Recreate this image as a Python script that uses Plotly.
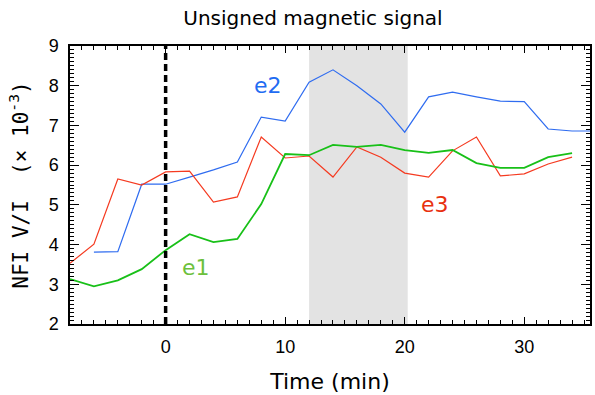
import plotly.graph_objects as go

# Time in minutes relative to the reference moment
time_e1 = [-8, -6, -4, -2, 0, 2, 4, 6, 8, 10, 12, 14, 16, 18, 20, 22, 24, 26, 28, 30, 32, 34]
e1 = [3.13, 2.95, 3.10, 3.38, 3.86, 4.26, 4.06, 4.14, 5.02, 6.28, 6.25, 6.51, 6.46, 6.51,
      6.38, 6.31, 6.38, 6.05, 5.93, 5.93, 6.20, 6.30]

time_e2 = [-6, -4, -2, 0, 2, 4, 6, 8, 10, 12, 14, 16, 18, 20, 22, 24, 26, 28, 30, 32, 34, 36]
e2 = [3.81, 3.82, 5.52, 5.52, 5.70, 5.88, 6.08, 7.21, 7.11, 8.09, 8.40, 8.00, 7.54, 6.83,
      7.72, 7.84, 7.72, 7.61, 7.60, 6.91, 6.86, 6.86]

time_e3 = [-8, -6, -4, -2, 0, 2, 4, 6, 8, 10, 12, 14, 16, 18, 20, 22, 24, 26, 28, 30, 32, 34]
e3 = [3.53, 4.01, 5.65, 5.50, 5.83, 5.85, 5.07, 5.20, 6.71, 6.18, 6.23, 5.70, 6.46, 6.20,
      5.80, 5.70, 6.36, 6.71, 5.73, 5.78, 6.03, 6.20]

shade_start, shade_end = 12, 20.25
font = "DejaVu Sans"
tick_font = "Liberation Sans"
mono_font = "DejaVu Sans Mono"

fig = go.Figure()
fig.add_vrect(x0=shade_start, x1=shade_end, fillcolor="#e3e3e3", line_width=0, layer="below")

fig.add_trace(go.Scatter(x=time_e2, y=e2, mode="lines", line=dict(color="#2f6cf0", width=1.2)))
fig.add_trace(go.Scatter(x=time_e3, y=e3, mode="lines", line=dict(color="#f53a20", width=1.2)))
fig.add_trace(go.Scatter(x=time_e1, y=e1, mode="lines", line=dict(color="#18c018", width=1.8)))

fig.add_shape(type="line", x0=0, x1=0, y0=2, y1=9, xref="x", yref="y",
              line=dict(color="black", width=3.5, dash="7px,4px"))

for txt, x, y, col in [("e2", 8.6, 8.0, "#1f6cf2"), ("e1", 2.5, 3.43, "#6cc03c"),
                       ("e3", 22.5, 5.0, "#e8300f")]:
    fig.add_annotation(x=x, y=y, text=txt, showarrow=False,
                       font=dict(family=font, size=22, color=col))

axis_common = dict(showline=True, linecolor="black", linewidth=1.5, mirror="ticks",
                   ticks="inside", tickcolor="black", showgrid=False, zeroline=False,
                   tickfont=dict(family=tick_font, size=18, color="black"))

fig.update_xaxes(range=[-8, 35.5], tickvals=[0, 10, 20, 30], ticklen=7, tickwidth=1.2,
                 ticklabelstandoff=6,
                 minor=dict(dtick=1, tick0=0, ticks="inside", ticklen=4, tickcolor="black", tickwidth=1),
                 title=dict(text="Time (min)", font=dict(family=font, size=22, color="black"), standoff=17),
                 **axis_common)
fig.update_yaxes(range=[2, 9], tickvals=[2, 3, 4, 5, 6, 7, 8, 9], ticklen=9, tickwidth=1.2,
                 ticklabelstandoff=6,
                 minor=dict(dtick=0.1, tick0=2, ticks="inside", ticklen=4, tickcolor="black", tickwidth=1),
                 title=dict(text="NFI V/I&nbsp;&nbsp;(× 10<sup>-3</sup>)",
                            font=dict(family=mono_font, size=21, color="black"),
                            standoff=14),
                 **axis_common)

fig.update_layout(
    width=595, height=395,
    margin=dict(l=70, r=3, t=46, b=71),
    paper_bgcolor="white", plot_bgcolor="white",
    showlegend=False,
    title=dict(text="Unsigned magnetic signal", x=0.526, xanchor="center", y=0.955, yanchor="middle",
               font=dict(family=font, size=20, color="black")),
)

fig.write_html("out.html")
